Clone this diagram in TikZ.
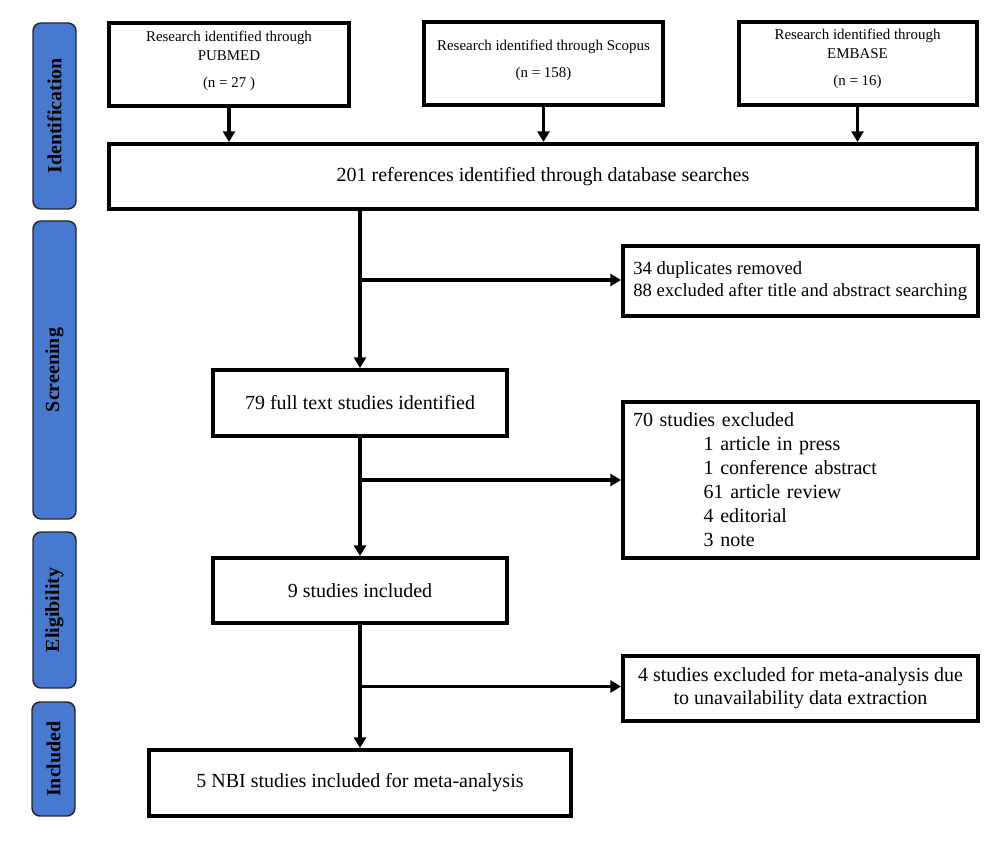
\documentclass[tikz,border=0pt]{standalone}
\usepackage{fontspec}
\setmainfont{Liberation Serif}
\usetikzlibrary{arrows.meta}
\definecolor{sideblue}{RGB}{72,121,209}
\newcommand{\pxl}[1]{#1*0.75pt}
\begin{document}
\begin{tikzpicture}[x=0.75pt,y=-0.75pt,
  box/.style={draw, line width=3pt, rectangle, inner sep=0pt, align=center,
    font=\fontsize{15}{18}\selectfont},
  topbox/.style={box, minimum height=\pxl{83}},
  toptext/.style={inner sep=0pt, align=center, font=\fontsize{11.2}{14.2}\selectfont},
  sidebox/.style={draw=black!85, line width=1.1pt, fill=sideblue, rounded corners=6pt,
    rotate=90, inner sep=0pt, minimum height=\pxl{43},
    font=\bfseries\fontsize{15}{18}\selectfont},
  arr/.style={line width=2.4pt, -{Triangle[width=9pt,length=8pt]}},
  ln/.style={line width=2.4pt}]
\useasboundingbox (0,0) rectangle (1000,845);

% phase labels
\node[sidebox, minimum width=\pxl{186}] (ident) at (54.5,116) {Identification};
\node[sidebox, minimum width=\pxl{298}] (screen) at (54.5,370) {Screening};
\node[sidebox, minimum width=\pxl{156}] (elig) at (54.5,610) {Eligibility};
\node[sidebox, minimum width=\pxl{114}] (incl) at (53.5,759) {Included};

% top boxes
\node[topbox, minimum width=\pxl{240}] (pub) at (229,64.5) {};
\node[toptext] (pubt) at (229,61)
  {Research identified through\\PUBMED\\[6.5pt](n = 27 )};
\node[topbox, minimum width=\pxl{239}] (sco) at (543.5,63.5) {};
\node[toptext] (scot) at (543.5,60)
  {Research identified through Scopus\\[6pt](n = 158)};
\node[topbox, minimum width=\pxl{238}] (emb) at (857.5,63.5) {};
\node[toptext] (embt) at (857.5,59)
  {Research identified through\\EMBASE\\[6.5pt](n = 16)};

\node[box, minimum width=\pxl{868}, minimum height=\pxl{65}] (big) at (543,176.5)
  {201 references identified through database searches};

\node[box, minimum width=\pxl{355}, minimum height=\pxl{70}] (dup) at (800.5,281) {};
\node[inner sep=0pt, anchor=west, align=left, font=\fontsize{14}{16.5}\selectfont] (dupt) at (633,281)
  {34 duplicates removed\\88 excluded after title and abstract searching};

\node[box, minimum width=\pxl{294}, minimum height=\pxl{66}] (n79) at (360,403)
  {79 full text studies identified};

\node[box, minimum width=\pxl{355}, minimum height=\pxl{156}, text width=\pxl{335},
  inner xsep=\pxl{10}, align=left] (ex70) at (800.5,480)
  {70 studies excluded\\
   \hspace*{53pt}1 article in press\\
   \hspace*{53pt}1 conference abstract\\
   \hspace*{53pt}61 article review\\
   \hspace*{53pt}4 editorial\\
   \hspace*{53pt}3 note};

\node[box, minimum width=\pxl{294}, minimum height=\pxl{65}] (n9) at (360,590.5)
  {9 studies included};

\node[box, minimum width=\pxl{355}, minimum height=\pxl{65}, font=\fontsize{15}{17.3}\selectfont] (ex4) at (800.5,688)
  {4 studies excluded for meta-analysis due\\to unavailability data extraction};

\node[box, minimum width=\pxl{422}, minimum height=\pxl{66}] (n5) at (360,783)
  {5 NBI studies included for meta-analysis};

% connectors
\draw[arr] (pub) -- (pub |- big.north);
\draw[arr] (sco) -- (sco |- big.north);
\draw[arr] (emb) -- (emb |- big.north);

\draw[arr] (n79.north |- big.south) -- (n79.north);
\coordinate (b1) at (360,280);
\draw[arr] (b1) -- (b1 -| dup.west);

\draw[arr] (n79) -- (n9);
\coordinate (b2) at (360,480);
\draw[arr] (b2) -- (b2 -| ex70.west);

\draw[arr] (n9) -- (n5);
\coordinate (b3) at (360,686.5);
\draw[arr] (b3) -- (b3 -| ex4.west);
\end{tikzpicture}
\end{document}
